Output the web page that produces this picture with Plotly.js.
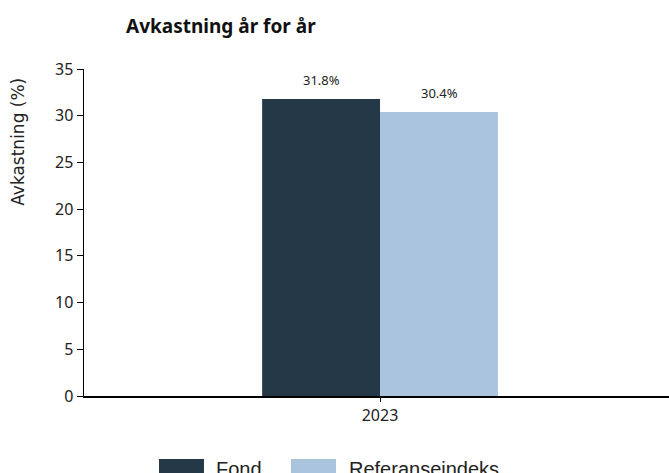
<!DOCTYPE html>
<html>
<head>
<meta charset="utf-8">
<script src="https://cdn.plot.ly/plotly-3.0.1.min.js"></script>
<style>html,body{margin:0;padding:0;background:#fff;}#chart{width:669px;height:473px;}</style>
</head>
<body>
<div id="chart"></div>
<script>
const categories = ['2023'];
const seriesNames = ['Fond', 'Referanseindeks'];
const fondValues = [31.8];
const refValues = [30.4];
const yTicks = [0, 5, 10, 15, 20, 25, 30, 35];
const colors = ['#253848', '#aac4de'];

const fmt = v => v.toFixed(1) + '%';

const traces = [
  {type: 'bar', name: seriesNames[0], x: categories, y: fondValues, marker: {color: colors[0]}, showlegend: false, hoverinfo: 'none'},
  {type: 'bar', name: seriesNames[1], x: categories, y: refValues, marker: {color: colors[1]}, showlegend: false, hoverinfo: 'none'}
];

const labelFont = {family: 'Noto Sans, sans-serif', size: 13, color: '#222'};
const annotations = [];
[fondValues, refValues].forEach((vals, si) => {
  vals.forEach((v, i) => {
    annotations.push({
      x: i, y: v, xref: 'x', yref: 'y',
      text: fmt(v), showarrow: false, yanchor: 'bottom',
      xshift: si === 0 ? -59 : 59, yshift: 8, font: labelFont
    });
  });
});
// y axis title
annotations.push({
  xref: 'paper', yref: 'paper', x: -0.113, y: 0.777,
  text: 'Avkastning (%)', textangle: -90, showarrow: false,
  xanchor: 'center', yanchor: 'middle',
  font: {family: 'DejaVu Sans, sans-serif', size: 17, color: '#222'}
});
// legend text
const legendText = [0.2222, 0.4496];
const legendSw = [[0.1282, 0.2051], [0.3538, 0.4308]];
seriesNames.forEach((n, i) => {
  annotations.push({
    xref: 'paper', yref: 'paper', x: legendText[i], y: -0.1835,
    text: n, showarrow: false, xanchor: 'left', yanchor: 'top',
    font: {family: 'Liberation Sans, Arial, sans-serif', size: 20, color: '#222'}
  });
});
const shapes = legendSw.map((s, i) => ({
  type: 'rect', xref: 'paper', yref: 'paper', x0: s[0], x1: s[1], y0: -0.1927, y1: -0.27,
  fillcolor: colors[i], line: {width: 0}
}));

const layout = {
  width: 669, height: 473,
  margin: {l: 84, r: 0, t: 69, b: 77},
  paper_bgcolor: '#fff', plot_bgcolor: '#fff',
  font: {family: 'Noto Sans, sans-serif', color: '#222'},
  title: {
    text: '<b>Avkastning år for år</b>',
    font: {family: 'Noto Sans, sans-serif', size: 19, color: '#111'},
    xref: 'container', yref: 'container', x: 126/669, xanchor: 'left', y: 1 - 26/473, yanchor: 'middle'
  },
  barmode: 'group', bargap: 0.597, bargroupgap: 0,
  xaxis: {
    type: 'category', range: [-0.506, 0.494],
    showline: true, linecolor: '#000', linewidth: 2,
    ticks: 'outside', ticklen: 4, tickcolor: '#000', tickwidth: 1,
    tickfont: {family: 'Noto Sans, sans-serif', size: 16, color: '#222'},
    showgrid: false, zeroline: false, fixedrange: true
  },
  yaxis: {
    range: [0, 35], tickvals: yTicks, ticktext: yTicks.map(String),
    showline: true, linecolor: '#000', linewidth: 1.5,
    ticks: 'outside', ticklen: 6, tickcolor: '#000', tickwidth: 1,
    tickfont: {family: 'Noto Sans, sans-serif', size: 16, color: '#222'},
    showgrid: false, zeroline: false, fixedrange: true
  },
  showlegend: false,
  annotations: annotations,
  shapes: shapes
};

Plotly.newPlot('chart', traces, layout, {displayModeBar: false, staticPlot: true});
</script>
</body>
</html>
